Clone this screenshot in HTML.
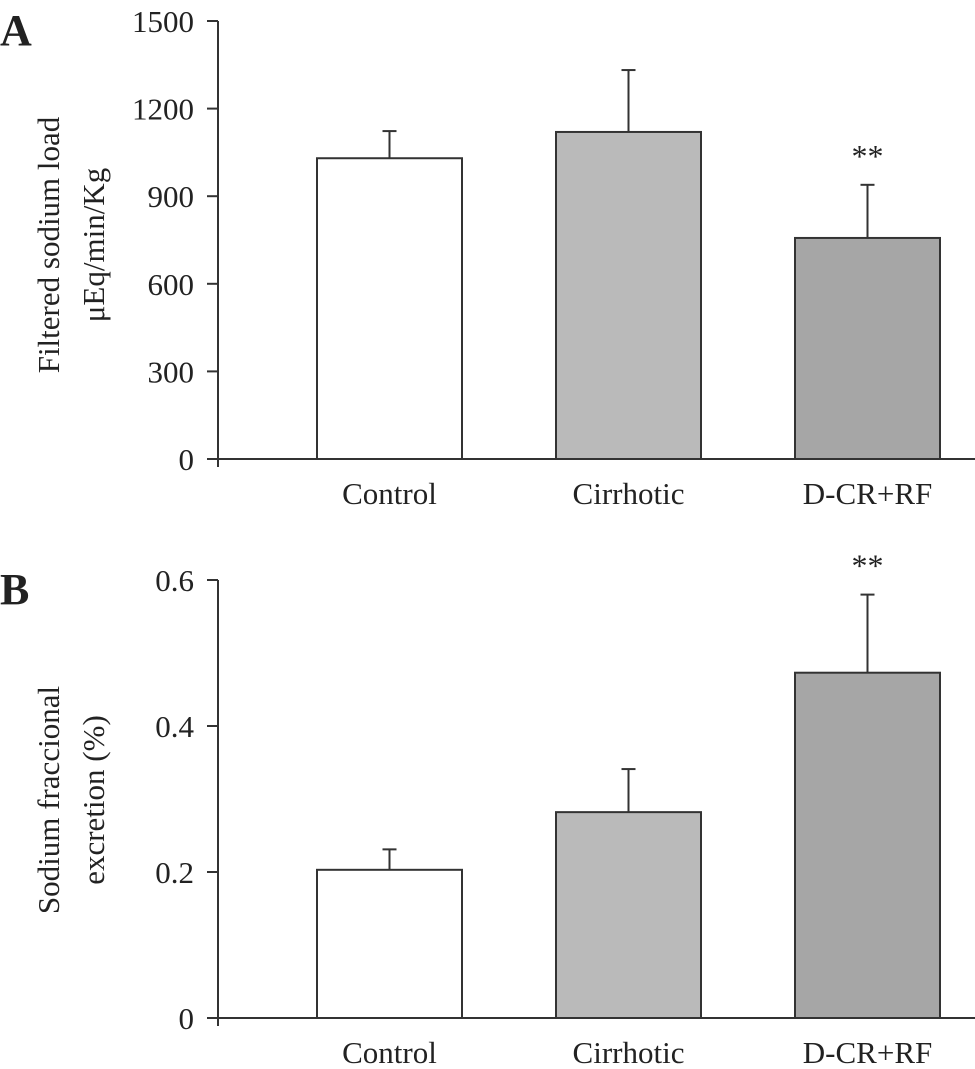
<!DOCTYPE html>
<html><head><meta charset="utf-8"><style>
body{margin:0;background:#fff;}
svg text{font-family:"Liberation Serif",serif;fill:#222;}
</style></head><body>
<svg id="chart" width="975" height="1064" viewBox="0 0 975 1064" xmlns="http://www.w3.org/2000/svg"></svg>
<script>
const categories = ["Control", "Cirrhotic", "D-CR+RF"];
const colors = ["#ffffff", "#bababa", "#a6a6a6"];
const aValues = [1030, 1120, 757];
const aErrors = [93, 212, 182];
const aTicks = [0, 300, 600, 900, 1200, 1500];
const aSig = ["", "", "**"];
const bValues = [0.203, 0.282, 0.473];
const bErrors = [0.028, 0.059, 0.107];
const bTicks = [0, 0.2, 0.4, 0.6];
const bTickLabels = ["0", "0.2", "0.4", "0.6"];
const bSig = ["", "", "**"];

const NS = "http://www.w3.org/2000/svg";
const svg = document.getElementById("chart");
function mk(tag, attrs, parent, text) {
  const e = document.createElementNS(NS, tag);
  for (const k in attrs) e.setAttribute(k, attrs[k]);
  if (text !== undefined) e.textContent = text;
  (parent || svg).appendChild(e);
  return e;
}
function panel(opt) {
  const g = mk("g", {});
  
  
  const axX = 218, y0 = opt.y0, y1 = opt.y1, vmax = opt.vmax;
  const y = v => y0 - (v / vmax) * (y0 - y1);
  const barL = [317, 556, 795], barW = 145;
  const L = mk("text", {x: 0, y: opt.letterY, "font-size": 44, "font-weight": "bold"}, g, opt.letter);
  
  
  opt.values.forEach((v, i) => {
    const cx = barL[i] + barW / 2;
    const eb = mk("line", {x1: cx, x2: cx, y1: y(v), y2: y(v + opt.errors[i]), stroke: "#333", "stroke-width": 2}, g);
    
    
    const cap = mk("line", {x1: cx - 7, x2: cx + 7, y1: y(v + opt.errors[i]), y2: y(v + opt.errors[i]), stroke: "#333", "stroke-width": 2}, g);
    
    
    const r = mk("rect", {x: barL[i], y: y(v), width: barW, height: y0 - y(v), fill: colors[i], stroke: "#333", "stroke-width": 2}, g);
    
    
    if (opt.sig[i]) {
      const s = mk("text", {x: cx, y: y(v + opt.errors[i]) - 18, "font-size": 32, "text-anchor": "middle"}, g, opt.sig[i]);
      
      
    }
    const t = mk("text", {x: cx, y: y0 + 45, "font-size": 31, "text-anchor": "middle"}, g, categories[i]);
    
    
  });
  const ya = mk("line", {x1: axX, x2: axX, y1: y1, y2: y0 + 8, stroke: "#333", "stroke-width": 2}, g);
  
  
  const xa = mk("line", {x1: 207, x2: 975, y1: y0, y2: y0, stroke: "#333", "stroke-width": 2}, g);
  
  
  opt.ticks.forEach((tv, i) => {
    const tk = mk("line", {x1: 207, x2: axX, y1: y(tv), y2: y(tv), stroke: "#333", "stroke-width": 2}, g);
    
    
    const tl = mk("text", {x: 194, y: y(tv) + 11, "font-size": 31, "text-anchor": "end"}, g, opt.tickLabels[i]);
    
    
  });
  opt.title.forEach((line, i) => {
    const tx = opt.titleX[i];
    const tt = mk("text", {x: tx, y: opt.titleY, "font-size": 31, "text-anchor": "middle", transform: `rotate(-90 ${tx} ${opt.titleY})`}, g, line);
    
    
  });
}
panel({name: "panel-a", letter: "A", letterY: 45, y0: 459, y1: 21, vmax: 1500,
  values: aValues, errors: aErrors, sig: aSig, ticks: aTicks, tickLabels: aTicks.map(String),
  title: ["Filtered sodium load", "μEq/min/Kg"], titleX: [59, 104], titleY: 245});
panel({name: "panel-b", letter: "B", letterY: 604, y0: 1018, y1: 580, vmax: 0.6,
  values: bValues, errors: bErrors, sig: bSig, ticks: bTicks, tickLabels: bTickLabels,
  title: ["Sodium fraccional", "excretion (%)"], titleX: [59, 104], titleY: 800});
</script>
</body></html>
